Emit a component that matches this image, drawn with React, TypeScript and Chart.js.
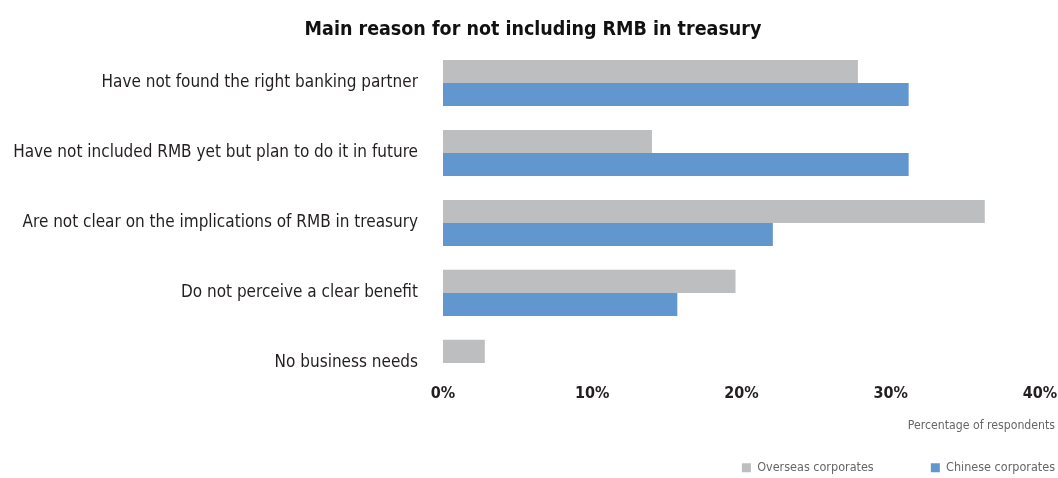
import React, { useEffect, useRef } from 'react';
import { Chart, registerables } from 'chart.js';

Chart.register(...registerables);

const titleText = 'Main reason for not including RMB in treasury';
const categories = [
  'Have not found the right banking partner',
  'Have not included RMB yet but plan to do it in future',
  'Are not clear on the implications of RMB in treasury',
  'Do not perceive a clear benefit',
  'No business needs',
];
const overseasValues = [27.8, 14.0, 36.3, 19.6, 2.8];
const chineseValues = [31.2, 31.2, 22.1, 15.7, 0];
const seriesNames = ['Overseas corporates', 'Chinese corporates'];
const axisTitle = 'Percentage of respondents';
const xMin = 0;
const xMax = 40;
const xStep = 10;

const FONT = "'DejaVu Sans Condensed', 'Liberation Sans Narrow', 'Roboto', sans-serif";
const LEGEND_GAP = '                ';

export default function App() {
  const ref = useRef<HTMLCanvasElement | null>(null);
  useEffect(() => {
    if (!ref.current) return;
    const chart = new Chart(ref.current, {
      type: 'bar',
      data: {
        labels: categories,
        datasets: [
          {
            label: seriesNames[0],
            data: overseasValues,
            backgroundColor: '#bdbec0',
            borderWidth: 0,
            categoryPercentage: 0.66,
            barPercentage: 1,
          },
          {
            label: seriesNames[1],
            data: chineseValues,
            backgroundColor: '#6196cf',
            borderWidth: 0,
            categoryPercentage: 0.66,
            barPercentage: 1,
          },
        ],
      },
      options: {
        indexAxis: 'y',
        animation: false,
        responsive: true,
        maintainAspectRatio: false,
        layout: { padding: { left: 11, right: 3, top: 0, bottom: -6 } },
        plugins: {
          title: {
            display: true,
            text: titleText,
            color: '#111111',
            font: { family: FONT, size: 19.5, weight: 'bold', lineHeight: 1.2 },
            padding: { top: 18, bottom: 6.6 },
          },
          subtitle: {
            display: true,
            text: axisTitle,
            position: 'bottom',
            align: 'end',
            weight: 500,
            color: '#666666',
            font: { family: FONT, size: 12.2, lineHeight: 1.2 },
            padding: { top: 0, bottom: 28.2 },
          },
          legend: {
            position: 'bottom',
            align: 'end',
            labels: {
              boxWidth: 9,
              boxHeight: 9,
              padding: 0,
              color: '#666666',
              font: { family: FONT, size: 12.5 },
              generateLabels: (c: any) => {
                const items = Chart.defaults.plugins.legend.labels.generateLabels(c);
                return items.map((it: any, i: number) =>
                  i < items.length - 1 ? { ...it, text: it.text + LEGEND_GAP } : it
                );
              },
            },
          },
          tooltip: { enabled: false },
        },
        scales: {
          x: {
            min: xMin,
            max: xMax,
            grid: { display: false, drawTicks: false },
            border: { display: false },
            ticks: {
              stepSize: xStep,
              mirror: true,
              padding: -5,
              color: '#231f20',
              font: { family: FONT, size: 16, weight: 'bold' },
              callback: (v: any) => v + '%',
            },
            afterFit: (s: any) => {
              s.height = 20.7;
              s.paddingLeft = 0;
              s.paddingRight = 18;
            },
          },
          y: {
            grid: { display: false, drawTicks: false },
            border: { display: false },
            ticks: {
              padding: 25,
              color: '#231f20',
              font: { family: FONT, size: 17 },
            },
            afterFit: (s: any) => {
              s.width = 432;
              s.paddingTop = 0;
              s.paddingBottom = 0;
            },
          },
        },
      },
    });
    return () => chart.destroy();
  }, []);
  return (
    <div style={{ position: 'fixed', left: 0, top: 0, width: 1058, height: 478, background: '#ffffff' }}>
      <canvas ref={ref} />
    </div>
  );
}
